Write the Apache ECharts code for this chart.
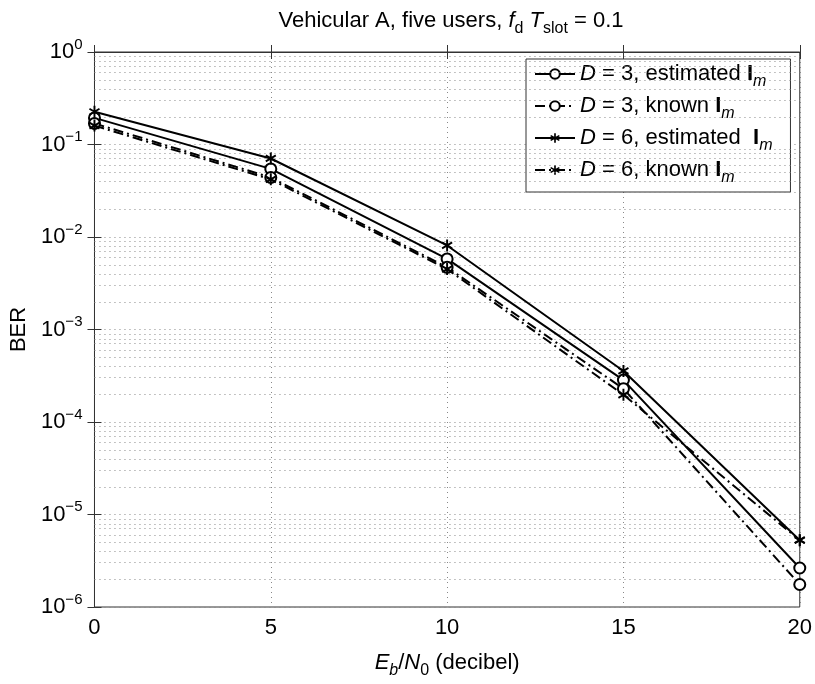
<!DOCTYPE html>
<html>
<head>
<meta charset="utf-8">
<script src="https://cdn.jsdelivr.net/npm/echarts@6/dist/echarts.min.js"></script>
<style>
  html, body { margin: 0; padding: 0; background: #fff; }
  #chart { width: 815px; height: 684px; }
</style>
</head>
<body>
<div id="chart"></div>
<script>
// Eb/N0 in dB
var snr = [0, 5, 10, 15, 20];
// BER curves
var d3Estimated = [0.194, 0.0545, 0.0058, 2.84e-4, 2.64e-6];
var d3Known = [0.169, 0.044, 0.0047, 2.29e-4, 1.75e-6];
var d6Estimated = [0.226, 0.0706, 0.0081, 3.56e-4, 5.27e-6];
var d6Known = [0.160, 0.042, 0.0045, 1.97e-4, 5.27e-6];
var decades = [-6, -5, -4, -3, -2, -1, 0];

var FONT = 'Liberation Sans, Arial, Helvetica, sans-serif';
var INK = '#000';
var GRID = '#888';

// MATLAB style '*' marker
var starPath = 'path://M-1,-6L1,-6L1,6L-1,6Z' +
  'M-5.696,-2.134L-4.696,-3.866L5.696,2.134L4.696,3.866Z' +
  'M4.696,-3.866L5.696,-2.134L-4.696,3.866L-5.696,2.134Z';

function pairs(ys) {
  return snr.map(function (x, i) { return [x, ys[i]]; });
}

// minor log grid 2..9 x 10^k, placed on a hidden axis in exponent space
var minorLines = [];
decades.slice(0, -1).forEach(function (k) {
  for (var m = 2; m <= 9; m++) minorLines.push({ yAxis: k + Math.log10(m) });
});

var dashDot = [10, 4, 2, 4];

var legendNames = {
  d3e: '{i|D}{n| = 3, estimated }{b|I}{s|m}',
  d3k: '{i|D}{n| = 3, known }{b|I}{s|m}',
  d6e: '{i|D}{n| = 6, estimated  }{b|I}{s|m}',
  d6k: '{i|D}{n| = 6, known }{b|I}{s|m}'
};

var richText = {
  n: { fontSize: 22, fontFamily: FONT, color: INK, fontWeight: 'normal', lineHeight: 32 },
  i: { fontSize: 22, fontFamily: FONT, color: INK, fontWeight: 'normal', fontStyle: 'italic', lineHeight: 32 },
  b: { fontSize: 22, fontFamily: FONT, color: INK, fontWeight: 'bold', lineHeight: 32 },
  s: { fontSize: 16, fontFamily: FONT, color: INK, fontWeight: 'normal', fontStyle: 'italic', lineHeight: 12, verticalAlign: 'bottom' },
  r: { fontSize: 16, fontFamily: FONT, color: INK, fontWeight: 'normal', lineHeight: 12, verticalAlign: 'bottom' }
};

var chart = echarts.init(document.getElementById('chart'));

var option = {
  backgroundColor: '#fff',
  animation: false,
  title: {
    text: '{n|Vehicular A, five users, }{i|f}{r|d}{i| T}{r|slot}{n| = 0.1}',
    left: 446,
    textAlign: 'center',
    top: 0,
    textStyle: { fontWeight: 'normal', rich: richText }
  },
  grid: {
    left: 92, right: 15, top: 52, bottom: 72,
    show: true, borderColor: '#333', borderWidth: 1
  },
  legend: {
    orient: 'vertical',
    left: 526,
    top: 59,
    padding: [4, 18, 6, 8],
    itemWidth: 40,
    itemHeight: 12,
    itemGap: 5,
    backgroundColor: '#fff',
    borderColor: '#333',
    borderWidth: 1,
    borderRadius: 0,
    data: ['d3e', 'd3k', 'd6e', 'd6k'],
    formatter: function (name) { return legendNames[name]; },
    textStyle: { rich: richText }
  },
  xAxis: [{
    type: 'value',
    min: 0, max: 20, interval: 5,
    name: '{i|E}{s|b}{n|/}{i|N}{r|0}{n| (decibel)}',
    nameLocation: 'middle',
    nameGap: 40,
    nameTextStyle: { rich: richText },
    axisLine: { lineStyle: { color: '#333', width: 1 } },
    axisTick: { inside: true, length: 7, lineStyle: { color: '#333' } },
    axisLabel: { fontSize: 22, fontFamily: FONT, color: INK, margin: 10 },
    splitLine: { show: true, lineStyle: { color: GRID, type: [1, 4], width: 1 } }
  }, {
    type: 'value',
    position: 'top',
    min: 0, max: 20, interval: 5,
    axisLine: { lineStyle: { color: '#333' } },
    axisTick: { inside: true, length: 7, lineStyle: { color: '#333' } },
    axisLabel: { show: false },
    splitLine: { show: false }
  }],
  yAxis: [{
    type: 'log',
    logBase: 10,
    min: 1e-6, max: 1,
    splitNumber: 6,
    name: 'BER',
    nameLocation: 'middle',
    nameGap: 62,
    nameTextStyle: { fontSize: 22, fontFamily: FONT, color: INK },
    axisLine: { lineStyle: { color: '#333', width: 1 } },
    axisTick: { inside: true, length: 7, lineStyle: { color: '#333' } },
    axisLabel: {
      margin: 12,
      formatter: function (v) {
        var e = Math.round(Math.log10(v));
        return '{m|10}{e|' + (e < 0 ? '\u2212' + (-e) : e) + '}';
      },
      rich: {
        m: { fontSize: 22, fontFamily: FONT, color: INK, lineHeight: 30 },
        e: { fontSize: 15, fontFamily: FONT, color: INK, lineHeight: 12, verticalAlign: 'top' }
      }
    },
    splitLine: { show: true, lineStyle: { color: GRID, type: [1, 4], width: 1 } }
  }, {
    type: 'log',
    logBase: 10,
    position: 'right',
    min: 1e-6, max: 1,
    splitNumber: 6,
    axisLine: { lineStyle: { color: '#333' } },
    axisTick: { inside: true, length: 7, lineStyle: { color: '#333' } },
    axisLabel: { show: false },
    splitLine: { show: false }
  }, {
    // exponent space, only used for the minor grid
    type: 'value',
    min: -6, max: 0,
    show: false
  }],
  series: [{
    name: 'minorGrid',
    type: 'line',
    yAxisIndex: 2,
    data: [],
    silent: true,
    markLine: {
      silent: true,
      symbol: ['none', 'none'],
      label: { show: false },
      lineStyle: { color: GRID, type: [1, 4], width: 1 },
      data: minorLines
    },
    z: 1
  }, {
    name: 'd3e',
    type: 'line',
    data: pairs(d3Estimated),
    symbol: 'emptyCircle',
    symbolSize: 11,
    lineStyle: { color: INK, width: 2, type: 'solid' },
    itemStyle: { color: INK, borderColor: INK, borderWidth: 1.8 },
    z: 5
  }, {
    name: 'd3k',
    type: 'line',
    data: pairs(d3Known),
    symbol: 'emptyCircle',
    symbolSize: 11,
    lineStyle: { color: INK, width: 2, type: dashDot },
    itemStyle: { color: INK, borderColor: INK, borderWidth: 1.8 },
    z: 5
  }, {
    name: 'd6e',
    type: 'line',
    data: pairs(d6Estimated),
    symbol: starPath,
    symbolSize: [11, 12],
    lineStyle: { color: INK, width: 2, type: 'solid' },
    itemStyle: { color: INK, borderWidth: 0 },
    z: 6
  }, {
    name: 'd6k',
    type: 'line',
    data: pairs(d6Known),
    symbol: starPath,
    symbolSize: [11, 12],
    lineStyle: { color: INK, width: 2, type: dashDot },
    itemStyle: { color: INK, borderWidth: 0 },
    z: 6
  }]
};

chart.setOption(option);
</script>
</body>
</html>
